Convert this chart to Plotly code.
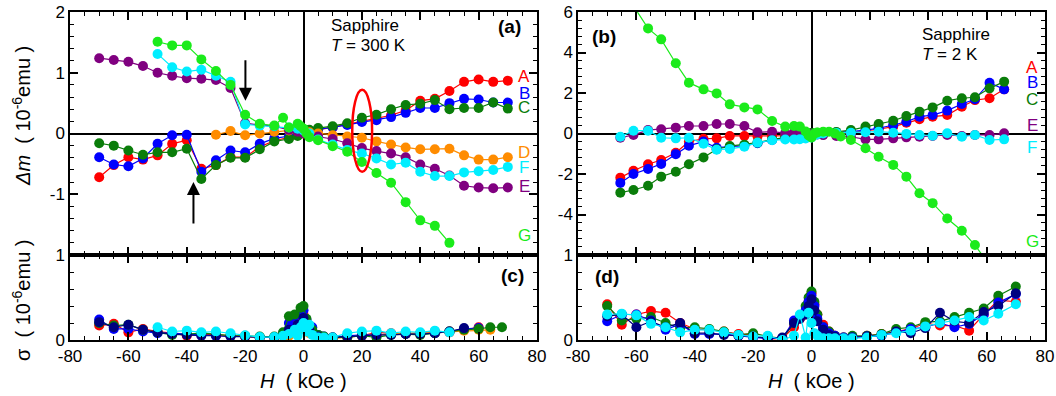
import numpy as np
import plotly.graph_objects as go

# ---------------- Panel (a): Sapphire, T = 300 K ----------------
H_a = [-70, -65, -60, -55, -50, -45, -40, -35, -30, -25, -20, -15, -10, -5, -2, 0,
       2, 5, 10, 15, 20, 25, 30, 35, 40, 45, 50, 55, 60, 65, 70]
A_a = [-0.72, -0.52, -0.39, -0.43, -0.36, -0.17, -0.11, -0.58, -0.52, -0.39, -0.39,
       -0.22, -0.12, -0.07, -0.03, 0.0, 0.03, 0.06, 0.10, 0.15,
       0.20, 0.25, 0.30, 0.38, 0.54, 0.57, 0.70, 0.85, 0.89, 0.85, 0.87]
B_a = [-0.39, -0.51, -0.54, -0.41, -0.17, -0.03, -0.02, -0.63, -0.44, -0.28, -0.31,
       -0.17, -0.08, -0.05, -0.02, 0.02, 0.04, 0.07, 0.10, 0.14,
       0.19, 0.22, 0.27, 0.34, 0.42, 0.42, 0.50, 0.57, 0.56, 0.51, 0.51]
C_a = [-0.16, -0.20, -0.28, -0.35, -0.31, -0.31, -0.25, -0.75, -0.52, -0.40, -0.40,
       -0.26, -0.13, -0.09, -0.04, 0.03, 0.06, 0.09, 0.12, 0.17,
       0.26, 0.31, 0.40, 0.47, 0.49, 0.55, 0.40, 0.42, 0.42, 0.51, 0.41]
E_a = [1.24, 1.21, 1.18, 1.11, 1.00, 0.95, 0.91, 0.90, 0.88, 0.75, 0.17,
       0.14, 0.12, 0.06, 0.03, 0.0, -0.03, -0.05, -0.09, -0.16,
       -0.24, -0.29, -0.33, -0.39, -0.51, -0.58, -0.69, -0.86, -0.89, -0.90, -0.89]
H_a_D = [-30, -25, -20, -15, -10, -5, -2, 0, 2, 5, 10, 15, 20, 25, 30, 35, 40, 45, 50, 55, 60, 65, 70]
D_a = [-0.02, 0.04, -0.03, 0.0, 0.03, 0.05, 0.04, 0.03, 0.02, 0.0, -0.03, -0.05,
       -0.07, -0.13, -0.18, -0.23, -0.26, -0.26, -0.25, -0.36, -0.43, -0.43, -0.39]
H_a_F = [-50, -45, -40, -35, -30, -25, -20, -15, -10, -5, -2, 0, 2, 5, 10, 15,
         20, 25, 30, 35, 40, 45, 50, 55, 60, 65, 70]
F_a = [1.31, 1.09, 1.02, 1.05, 0.95, 0.85, 0.15, 0.13, 0.12, 0.10, 0.08, 0.05,
       0.0, -0.10, -0.18, -0.27, -0.33, -0.41, -0.51, -0.48, -0.63, -0.70, -0.70,
       -0.64, -0.62, -0.60, -0.55]
H_a_G = [-50, -45, -40, -35, -30, -25, -20, -15, -10, -7, -5, -2, -1, 0, 1, 2, 5,
         10, 15, 20, 25, 30, 35, 40, 45, 50]
G_a = [1.51, 1.45, 1.45, 1.22, 1.03, 0.80, 0.31, 0.16, 0.13, 0.26, 0.10, 0.16, 0.12,
       0.08, 0.0, -0.06, -0.11, -0.21, -0.30, -0.47, -0.65, -0.81, -1.13, -1.43, -1.52, -1.80]

# ---------------- Panel (b): Sapphire, T = 2 K ----------------
H_b = [-65.5, -61, -56, -51.5, -46.5, -42, -37, -32.5, -28, -23, -18.5, -13.5, -9, -6, -4, -2,
       0, 2, 4, 8.5, 13.5, 18.5, 23, 28, 32.5, 37, 41.5, 46.5, 51.5, 56, 61, 66]
A_b = [-2.18, -1.84, -1.52, -1.31, -0.95, -0.40, -0.26, -0.24, -0.12, -0.12, -0.14, -0.12,
       -0.10, -0.08, -0.05, -0.03, 0.0, 0.0, 0.0, 0.0,
       0.04, 0.12, 0.21, 0.34, 0.53, 0.70, 0.83, 0.91, 1.32, 1.65, 1.74, 2.18]
B_b = [-2.44, -2.0, -1.75, -1.5, -1.02, -0.6, -0.4, -0.7, -0.65, -0.6, -0.48, -0.32,
       -0.22, -0.12, -0.08, -0.04, 0.0, 0.02, 0.03, 0.05,
       0.09, 0.17, 0.26, 0.42, 0.58, 0.83, 0.91, 1.13, 1.46, 1.69, 2.51, 2.18]
C_b = [-2.92, -2.79, -2.58, -2.13, -1.89, -1.52, -1.18, -0.78, -0.62, -0.55, -0.45, -0.30,
       -0.18, -0.10, -0.06, -0.02, 0.02, 0.04, 0.05, 0.08,
       0.17, 0.34, 0.47, 0.63, 0.86, 1.08, 1.29, 1.62, 1.74, 1.79, 2.23, 2.56]
E_b = [-0.21, -0.07, 0.17, 0.21, 0.29, 0.37, 0.37, 0.47, 0.47, 0.37, 0.06, 0.09,
       0.02, 0.05, 0.03, 0.0, -0.02, -0.05, -0.08, -0.12,
       -0.16, -0.29, -0.29, -0.24, -0.19, -0.16, -0.12, -0.07, -0.12, -0.07, -0.07, 0.01]
F_b = [-0.16, 0.14, 0.14, -0.21, -0.24, -0.21, -0.50, -0.80, -0.76, -0.65, -0.45, -0.33,
       -0.30, -0.30, -0.28, -0.25, -0.20, -0.05, 0.0, 0.03,
       0.04, 0.06, 0.09, 0.04, -0.02, -0.07, -0.11, 0.01, -0.16, -0.07, -0.32, -0.29]
H_b_G = [-65.5, -61, -56, -51.5, -46.5, -42, -37, -32.5, -28, -23, -18.5, -13.5, -9, -6, -4,
         -2, -1, 0, 1, 2, 4, 6, 8, 10, 13.5, 18.5, 23, 28, 32.5, 37, 41.5, 46.5, 51.5, 56, 61]
G_b = [7.6, 6.3, 5.19, 4.65, 3.47, 2.51, 2.18, 1.98, 1.44, 1.29, 1.19, 0.62, 0.34, 0.37, 0.34,
       0.10, -0.10, -0.20, 0.0, 0.05, 0.09, 0.09, 0.0, -0.15, -0.32, -0.73, -1.15, -1.55,
       -2.13, -2.95, -3.44, -4.20, -4.80, -5.51, -6.5]

# ---------------- Panel (c): sigma, 300 K ----------------
H_c_A = [-70, -65, -60, -55, -50, -45, -40, -35, -30, -25, -20, -15, -10, -7, -5, -3, -1, 0,
         1, 3, 5, 7, 10, 15, 20, 25, 30, 35, 40, 45, 50, 55, 60]
S_c_A = [0.17, 0.19, 0.09, 0.13, 0.10, 0.08, 0.05, 0.07, 0.06, 0.05, 0.04, 0.03, 0.03, 0.05,
         0.10, 0.18, 0.25, 0.30, 0.22, 0.10, 0.05, 0.03, 0.02, 0.04, 0.05, 0.09, 0.08, 0.07,
         0.08, 0.10, 0.09, 0.12, 0.15]
S_c_B = [0.24, 0.13, 0.13, 0.10, 0.08, 0.08, 0.07, 0.06, 0.05, 0.05, 0.04, 0.03, 0.03, 0.08,
         0.20, 0.28, 0.33, 0.35, 0.24, 0.15, 0.06, 0.04, 0.03, 0.05, 0.06, 0.06, 0.07, 0.07,
         0.08, 0.08, 0.10, 0.13, 0.14]
H_c_C = [-70, -65, -60, -55, -50, -45, -40, -35, -30, -25, -20, -15, -10, -7, -5, -3, -1, 0,
         1, 3, 5, 7, 10, 15, 20, 25, 30, 35, 40, 45, 50, 55, 60, 64, 68]
S_c_C = [0.20, 0.17, 0.18, 0.12, 0.09, 0.06, 0.07, 0.08, 0.07, 0.05, 0.05, 0.04, 0.04, 0.09,
         0.28, 0.30, 0.38, 0.40, 0.25, 0.12, 0.06, 0.04, 0.03, 0.03, 0.05, 0.03, 0.06, 0.07,
         0.06, 0.08, 0.10, 0.12, 0.13, 0.15, 0.15]
H_c_D = [-30, -25, -20, -15, -10, -5, -2, 0, 2, 5, 10, 15, 20, 25, 30, 35, 40, 45, 50, 55, 60, 64]
S_c_D = [0.06, 0.05, 0.04, 0.03, 0.03, 0.05, 0.10, 0.15, 0.08, 0.02, 0.02, 0.03, 0.05, 0.06,
         0.07, 0.08, 0.08, 0.09, 0.10, 0.11, 0.12, 0.12]
H_c_N = [-70, -65, -60, -55, -50, -45, -40, -35, -30, -25, -20, -15, -10, -5, -2, 0, 2, 5,
         10, 15, 20, 25, 30, 35, 40, 45, 50, 55]
S_c_N = [0.21, 0.15, 0.18, 0.12, 0.09, 0.07, 0.06, 0.05, 0.05, 0.04, 0.04, 0.03, 0.03, 0.12,
         0.18, 0.26, 0.12, 0.04, 0.03, 0.04, 0.05, 0.06, 0.06, 0.07, 0.07, 0.08, 0.10, 0.14]
H_c_F = [-50, -45, -40, -35, -30, -25, -20, -15, -10, -7, -5, -3, -2, -1, 0, 1, 2, 3, 5, 7,
         10, 15, 20, 25, 30, 35, 40, 45, 50]
S_c_F = [0.15, 0.10, 0.11, 0.09, 0.10, 0.08, 0.055, 0.035, 0.035, 0.05, 0.07, 0.12, 0.05,
         0.15, 0.20, 0.10, 0.18, 0.06, 0.03, 0.03, 0.03, 0.08, 0.10, 0.11, 0.08, 0.10, 0.09,
         0.11, 0.09]

# ---------------- Panel (d): sigma, 2 K ----------------
H_d = [-70, -65, -60, -55, -50, -45, -40, -35, -30, -25, -20, -15, -10, -6, -4, -2, -1, 0,
       1, 2, 4, 6, 8, 11, 14, 19, 24, 29, 34, 39, 44, 49, 54, 59, 64, 70]
S_d_A = [0.42, 0.18, 0.30, 0.34, 0.32, 0.20, 0.13, 0.12, 0.10, 0.07, 0.06, 0.01, 0.02, 0.15,
         0.25, 0.30, 0.45, 0.55, 0.42, 0.30, 0.18, 0.10, 0.05, 0.03, 0.03, 0.05, 0.07, 0.10,
         0.13, 0.20, 0.17, 0.17, 0.11, 0.30, 0.47, 0.45]
S_d_C = [0.40, 0.23, 0.25, 0.27, 0.20, 0.14, 0.15, 0.13, 0.10, 0.06, 0.08, 0.04, 0.02, 0.20,
         0.28, 0.40, 0.50, 0.57, 0.45, 0.30, 0.15, 0.10, 0.05, 0.03, 0.05, 0.05, 0.07, 0.13,
         0.15, 0.21, 0.22, 0.27, 0.32, 0.37, 0.52, 0.63]
S_d_B = [0.22, 0.30, 0.30, 0.23, 0.12, 0.19, 0.07, 0.07, 0.07, 0.05, 0.03, 0.02, 0.02, 0.23,
         0.27, 0.35, 0.45, 0.52, 0.40, 0.25, 0.15, 0.08, 0.05, 0.03, 0.03, 0.04, 0.05, 0.09,
         0.13, 0.15, 0.20, 0.15, 0.19, 0.30, 0.44, 0.54]
S_d_N = [0.28, 0.30, 0.15, 0.22, 0.15, 0.20, 0.08, 0.08, 0.06, 0.05, 0.04, 0.02, 0.03, 0.20,
         0.25, 0.30, 0.40, 0.48, 0.35, 0.22, 0.12, 0.06, 0.04, 0.02, 0.03, 0.04, 0.06, 0.10,
         0.08, 0.14, 0.32, 0.22, 0.20, 0.33, 0.40, 0.55]
S_d_F = [0.30, 0.31, 0.29, 0.19, 0.15, 0.09, 0.12, 0.12, 0.09, 0.06, 0.04, 0.05, 0.0, 0.05,
         0.30, 0.03, 0.32, 0.20, 0.08, 0.05, 0.02, 0.02, 0.02, 0.02, 0.02, 0.03, 0.06, 0.08,
         0.11, 0.16, 0.20, 0.23, 0.27, 0.23, 0.31, 0.42]

# ---------------- Styling ----------------
COL = dict(A="#ff0000", B="#0000ff", C="#0a7d0a", D="#ff8c00", E="#800080",
           F="#00eeff", G="#1aeb1a", N="#000080")
FONT = "Liberation Sans, Arial, Helvetica, sans-serif"
W, Hpx = 1056, 396

fig = go.Figure()


def add(xa, ya, h, v, c):
    fig.add_trace(go.Scatter(x=h, y=v, mode="lines+markers", xaxis=xa, yaxis=ya,
                             line=dict(color=COL[c], width=1.2),
                             marker=dict(color=COL[c], size=10),
                             showlegend=False, hoverinfo="skip"))


add("x", "y", H_a, A_a, "A")
add("x", "y", H_a, B_a, "B")
add("x", "y", H_a, C_a, "C")
add("x", "y", H_a_D, D_a, "D")
add("x", "y", H_a, E_a, "E")
add("x", "y", H_a_F, F_a, "F")
add("x", "y", H_a_G, G_a, "G")

add("x2", "y2", H_b, A_b, "A")
add("x2", "y2", H_b, B_b, "B")
add("x2", "y2", H_b, C_b, "C")
add("x2", "y2", H_b, E_b, "E")
add("x2", "y2", H_b, F_b, "F")
add("x2", "y2", H_b_G, G_b, "G")

add("x3", "y3", H_c_A, S_c_A, "A")
add("x3", "y3", H_c_A, S_c_B, "B")
add("x3", "y3", H_c_D, S_c_D, "D")
add("x3", "y3", H_c_C, S_c_C, "C")
add("x3", "y3", H_c_N, S_c_N, "N")
add("x3", "y3", H_c_F, S_c_F, "F")

add("x4", "y4", H_d, S_d_A, "A")
add("x4", "y4", H_d, S_d_C, "C")
add("x4", "y4", H_d, S_d_B, "B")
add("x4", "y4", H_d, S_d_N, "N")
add("x4", "y4", H_d, S_d_F, "F")


def px(x):
    return x / W


def py(y):
    return 1 - y / Hpx


XL = [px(70), px(537)]
XR = [px(578), px(1045)]
YT = [py(255), py(12)]
YB = [py(340), py(255)]

base = dict(showline=True, linecolor="black", linewidth=1.5, mirror="ticks",
            ticks="inside", ticklen=8, tickwidth=1.5, tickcolor="black",
            showgrid=False, automargin=False,
            tickfont=dict(size=17, color="black", family=FONT))

xt = [-80, -60, -40, -20, 0, 20, 40, 60, 80]


def xaxis(dom, anchor, labels):
    return dict(base, domain=dom, anchor=anchor, range=[-80, 80],
                tickmode="array", tickvals=xt, ticktext=[str(v) for v in xt],
                showticklabels=labels, zeroline=True, zerolinecolor="black", zerolinewidth=1.5,
                minor=dict(ticks="inside", ticklen=4, tickwidth=1.2, tickcolor="black",
                           tickmode="array", tickvals=list(range(-80, 81, 5)), showgrid=False))


def yaxis(dom, anchor, rng, vals, mstep, zl):
    return dict(base, domain=dom, anchor=anchor, range=rng, tickmode="array",
                tickvals=vals, ticktext=[str(v) for v in vals], zeroline=zl,
                zerolinecolor="black", zerolinewidth=1.5,
                minor=dict(ticks="inside", ticklen=4, tickwidth=1.2, tickcolor="black",
                           tickmode="array",
                           tickvals=[round(v, 3) for v in np.arange(rng[0], rng[1] + 1e-6, mstep)],
                           showgrid=False))


fig.update_layout(
    width=W, height=Hpx, margin=dict(l=0, r=0, t=0, b=0, autoexpand=False),
    paper_bgcolor="white", plot_bgcolor="white",
    font=dict(family=FONT, color="black"),
    xaxis=xaxis(XL, "y", False),
    yaxis=yaxis(YT, "x", [-2, 2], [-1, 0, 1, 2], 0.2, True),
    xaxis2=xaxis(XR, "y2", False),
    yaxis2=yaxis(YT, "x2", [-6, 6], [-4, -2, 0, 2, 4, 6], 0.4, True),
    xaxis3=xaxis(XL, "y3", True),
    yaxis3=yaxis(YB, "x3", [0, 1], [0, 1], 0.2, False),
    xaxis4=xaxis(XR, "y4", True),
    yaxis4=yaxis(YB, "x4", [0, 1], [0, 1], 0.2, False),
)

ann = []


def text(x, y, s, size=17, color="black", xanchor="center", yanchor="middle", angle=0):
    ann.append(dict(x=px(x), y=py(y), xref="paper", yref="paper", text=s, showarrow=False,
                    xanchor=xanchor, yanchor=yanchor, textangle=angle,
                    font=dict(size=size, color=color, family=FONT)))


NB = "\u00a0"
ytitle_top = "<i>Δm</i>" + NB * 2 + "(" + NB + "10<sup>-6</sup>emu" + NB + ")"
ytitle_bot = "σ" + NB * 2 + "(" + NB + "10<sup>-6</sup>emu" + NB + ")"
xtitle = "<i>H</i>" + NB * 2 + "(" + NB + "kOe" + NB + ")"
text(21, 116, ytitle_top, size=20, angle=-90)
text(21, 300, ytitle_bot, size=20, angle=-90)
text(303, 381, xtitle, size=20)
text(811, 381, xtitle, size=20)

text(329, 26, "Sapphire", size=17, xanchor="left")
text(329, 46, "<i>T</i>" + NB + "=" + NB + "300" + NB + "K", size=17, xanchor="left")
text(920, 35, "Sapphire", size=17, xanchor="left")
text(920, 55, "<i>T</i>" + NB + "=" + NB + "2" + NB + "K", size=17, xanchor="left")

text(509, 27, "<b>(a)</b>", size=19)
text(604, 36, "<b>(b)</b>", size=19)
text(512, 275, "<b>(c)</b>", size=19)
text(607, 276, "<b>(d)</b>", size=19)

for s, y in [("A", 76), ("B", 94), ("C", 107), ("D", 152), ("F", 167), ("E", 186), ("G", 236)]:
    text(524, y, s, size=17, color=COL[s])
for s, y in [("A", 67), ("B", 82), ("C", 99), ("E", 126), ("F", 147), ("G", 241)]:
    text(1032, y, s, size=17, color=COL[s])

# arrows in panel (a)
ann.append(dict(x=-19.9, y=0.54, xref="x", yref="y", ax=0, ay=-42, showarrow=True,
                arrowhead=2, arrowsize=1.3, arrowwidth=2, arrowcolor="black", text=""))
ann.append(dict(x=-37.7, y=-0.80, xref="x", yref="y", ax=0, ay=43, showarrow=True,
                arrowhead=2, arrowsize=1.3, arrowwidth=2, arrowcolor="black", text=""))

fig.update_layout(annotations=ann)

fig.add_shape(type="circle", xref="x", yref="y", x0=16.7, x1=23.5, y0=-0.63, y1=0.72,
              line=dict(color="#ff0000", width=2.5))

fig.write_html("out.html", config={"displayModeBar": False},
               post_script="document.body.style.margin='0';document.body.style.overflow='hidden';")
